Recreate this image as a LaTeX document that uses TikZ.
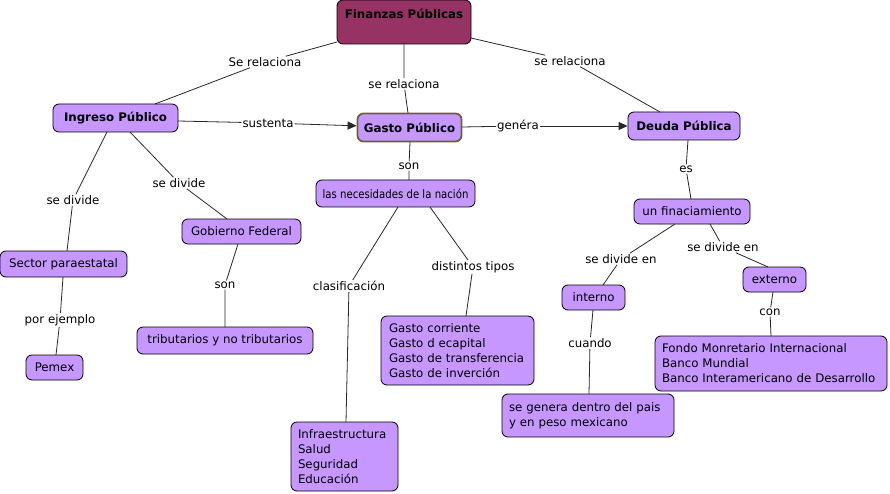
\documentclass[tikz,border=0pt]{standalone}
\usepackage{fontspec}
\setmainfont{DejaVu Sans}
\newfontfamily\narrowfont[FakeStretch=0.86]{DejaVu Sans}
\usetikzlibrary{arrows.meta}
\definecolor{lp}{RGB}{197,151,255}
\definecolor{fin}{RGB}{150,50,100}
\definecolor{olive}{RGB}{110,95,60}
\definecolor{ln}{RGB}{40,40,40}
\begin{document}
\begin{tikzpicture}[x=1pt,y=-1pt,
  every node/.style={font=\fontsize{11.8}{15}\selectfont},
  box/.style={draw=black, fill=lp, rounded corners=6pt, line width=0.8pt, inner sep=0pt, align=left},
  bbox/.style={box, font=\fontsize{11.8}{15}\selectfont\bfseries},
  lbl/.style={fill=white, inner sep=1pt},
  con/.style={draw=ln, line width=0.8pt},
  arr/.style={con, -{Triangle[length=9pt,width=8pt]}}
]
\useasboundingbox (0,0) rectangle (890,494);
% main nodes
\node[box, fill=fin, minimum width=134pt, minimum height=44pt, text height=16pt, text depth=22pt, font=\fontsize{11.8}{15}\selectfont\bfseries, align=center] (fin) at (404,22) {Finanzas Públicas};
\node[bbox, minimum width=125pt, minimum height=28pt] (ing) at (115.5,118) {Ingreso Público};
\node[bbox, draw=olive, line width=1.8pt, minimum width=104pt, minimum height=28pt] (gas) at (409.5,127.5) {Gasto Público};
\node[bbox, minimum width=112pt, minimum height=28pt] (deu) at (684,126) {Deuda Pública};
\node[box, minimum width=159pt, minimum height=27pt, font=\fontsize{11.8}{15}\narrowfont] (nec) at (395.5,193.5) {las necesidades de la nación};
\node[box, minimum width=127pt, minimum height=26pt] (sec) at (63.5,264) {Sector paraestatal};
\node[box, minimum width=119pt, minimum height=25pt] (gob) at (241.5,231.5) {Gobierno Federal};
\node[box, minimum width=176pt, minimum height=27pt] (tri) at (225,340.5) {tributarios y no tributarios};
\node[box, minimum width=57pt, minimum height=25pt] (pem) at (54.5,367.5) {Pemex};
\node[box, minimum width=153pt, minimum height=69pt, text width=137pt] (gc) at (457.5,350.5) {Gasto corriente\\Gasto d ecapital\\Gasto de transferencia\\Gasto de inverción};
\node[box, minimum width=107pt, minimum height=69pt, text width=93pt] (inf) at (344.5,456.5) {Infraestructura\\Salud\\Seguridad\\Educación};
\node[box, minimum width=116pt, minimum height=25pt] (fina) at (692,211.5) {un finaciamiento};
\node[box, minimum width=63pt, minimum height=25pt] (int) at (593.5,297.5) {interno};
\node[box, minimum width=63pt, minimum height=25pt] (ext) at (774.5,279.5) {externo};
\node[box, minimum width=232pt, minimum height=55pt, text width=218pt] (fon) at (771,363.5) {Fondo Monretario Internacional\\Banco Mundial\\Banco Interamericano de Desarrollo};
\node[box, minimum width=172pt, minimum height=43pt, text width=158pt] (gen) at (588,415.5) {se genera dentro del pais\\y en peso mexicano};
% labels
\node[lbl] (l1) at (265,62) {Se relaciona};
\node[lbl] (l2) at (404,84) {se relaciona};
\node[lbl] (l3) at (570,61) {se relaciona};
\node[lbl] (l4) at (268,123) {sustenta};
\node[lbl] (l5) at (518,126) {genéra};
\node[lbl] (l6) at (409,166) {son};
\node[lbl] (l7) at (686,169) {es};
\node[lbl] (l8) at (73,200) {se divide};
\node[lbl] (l9) at (179,183) {se divide};
\node[lbl] (l10) at (225,285) {son};
\node[lbl] (l11) at (60,320) {por ejemplo};
\node[lbl] (l12) at (349,286) {clasificación};
\node[lbl] (l13) at (473,267) {distintos tipos};
\node[lbl] (l14) at (621,259) {se divide en};
\node[lbl] (l15) at (723,247) {se divide en};
\node[lbl] (l16) at (590,343) {cuando};
\node[lbl] (l17) at (770,312) {con};
% coordinates on node borders
\coordinate (c1a) at (337,42); \coordinate (c1b) at (155,104);
\coordinate (c2a) at (404,44); \coordinate (c2b) at (408,113);
\coordinate (c3a) at (471,38); \coordinate (c3b) at (660,112);
\coordinate (c4a) at (178,121); \coordinate (c4b) at (357,127);
\coordinate (c5a) at (462,127); \coordinate (c5b) at (628,126);
\coordinate (c6a) at (410,142); \coordinate (c6b) at (409,180);
\coordinate (c7a) at (688,140); \coordinate (c7b) at (691,199);
\coordinate (c8a) at (107,132); \coordinate (c8b) at (67,251);
\coordinate (c9a) at (130,132); \coordinate (c9b) at (227,219);
\coordinate (c10a) at (238,244); \coordinate (c10b) at (225,327);
\coordinate (c11a) at (63,277); \coordinate (c11b) at (56,355);
\coordinate (c12a) at (398,207); \coordinate (c12b) at (346,422);
\coordinate (c13a) at (430,207); \coordinate (c13b) at (466,316);
\coordinate (c14a) at (675,224); \coordinate (c14b) at (603,285);
\coordinate (c15a) at (710,224); \coordinate (c15b) at (768,267);
\coordinate (c16a) at (593,310); \coordinate (c16b) at (589,394);
\coordinate (c17a) at (773,292); \coordinate (c17b) at (771,336);
% connectors
\path[con] (c1a) -- (l1) -- (c1b);
\path[con] (c2a) -- (l2) -- (c2b);
\path[con] (c3a) -- (l3) -- (c3b);
\path[con] (c4a) -- (l4);
\path[arr] (l4) -- (gas);
\path[con] (c5a) -- (l5);
\path[arr] (l5) -- (deu);
\path[con] (c6a) -- (l6) -- (c6b);
\path[con] (c7a) -- (l7) -- (c7b);
\path[con] (c8a) -- (l8) -- (c8b);
\path[con] (c9a) -- (l9) -- (c9b);
\path[con] (c10a) -- (l10) -- (c10b);
\path[con] (c11a) -- (l11) -- (c11b);
\path[con] (c12a) -- (l12) -- (c12b);
\path[con] (c13a) -- (l13) -- (c13b);
\path[con] (c14a) -- (l14) -- (c14b);
\path[con] (c15a) -- (l15) -- (c15b);
\path[con] (c16a) -- (l16) -- (c16b);
\path[con] (c17a) -- (l17) -- (c17b);
\end{tikzpicture}
\end{document}
